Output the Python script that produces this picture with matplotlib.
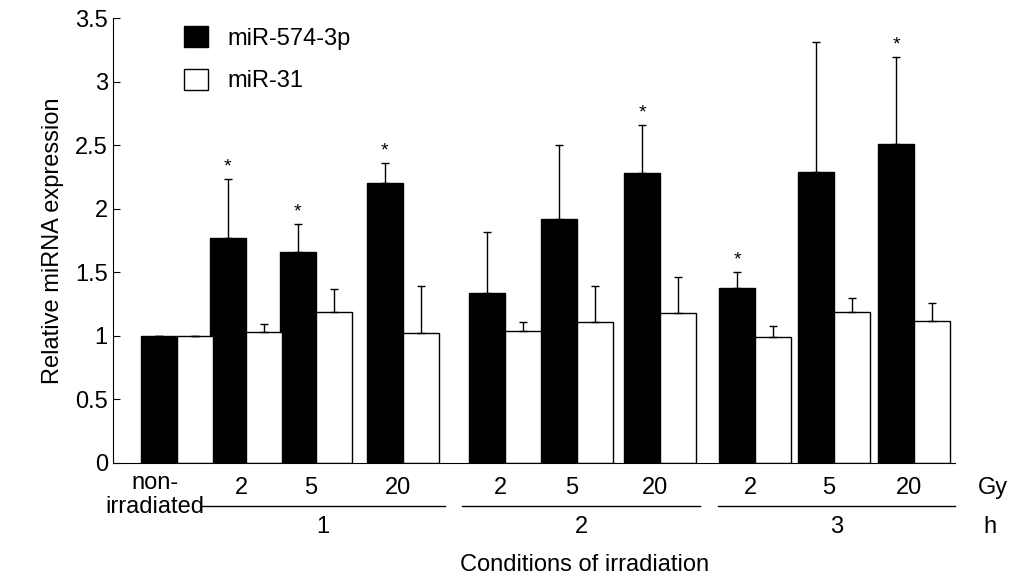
import matplotlib
matplotlib.use("Agg")
import matplotlib.pyplot as plt

doses = ["2", "5", "20", "2", "5", "20", "2", "5", "20"]
hours = ["1", "2", "3"]
mir574 = [1, 1.77, 1.66, 2.20, 1.34, 1.92, 2.28, 1.38, 2.29, 2.51]
mir574_err = [0, 0.46, 0.22, 0.16, 0.48, 0.58, 0.38, 0.12, 1.02, 0.68]
mir31 = [1, 1.03, 1.19, 1.02, 1.04, 1.11, 1.18, 0.99, 1.19, 1.12]
mir31_err = [0, 0.06, 0.18, 0.37, 0.07, 0.28, 0.28, 0.09, 0.11, 0.14]
signif = [False, True, True, True, False, False, True, True, False, True]

plt.rcParams["font.family"] = "Liberation Sans"
FS = 17
fig = plt.figure(figsize=(10.24, 5.83), dpi=100)
ax = fig.add_axes([0.110, 0.206, 0.823, 0.763])
centers = [177, 246, 316, 403, 505, 577, 660, 755, 834, 914]
w = 36
xb = [c - w/2 for c in centers]
xw = [c + w/2 for c in centers]
ax.bar(xb, mir574, w, color="black", edgecolor="black", lw=1, label="miR-574-3p")
ax.bar(xw, mir31, w, color="white", edgecolor="black", lw=1, label="miR-31")
ax.errorbar(xb, mir574, yerr=[[0]*10, mir574_err], fmt="none", ecolor="black", elinewidth=1, capsize=3)
ax.errorbar(xw, mir31, yerr=[[0]*10, mir31_err], fmt="none", ecolor="black", elinewidth=1, capsize=3)
for x, v, e, s in zip(xb, mir574, mir574_err, signif):
    if s:
        ax.text(x, v + e + 0.03, "*", ha="center", va="bottom", fontsize=14)
ax.set_xlim(113, 955)
ax.set_ylim(0, 3.5)
ax.set_yticks([0, 0.5, 1, 1.5, 2, 2.5, 3, 3.5])
ax.set_yticklabels(["0", "0.5", "1", "1.5", "2", "2.5", "3", "3.5"], fontsize=FS)
ax.set_xticks([])
ax.spines["top"].set_visible(False)
ax.spines["right"].set_visible(False)
ax.tick_params(axis="y", direction="in", length=5)
ax.set_ylabel("Relative miRNA expression", fontsize=FS, labelpad=8)
ax.legend(loc="upper left", bbox_to_anchor=(0.06, 1.03), frameon=False, fontsize=FS,
          handlelength=1.0, handleheight=1.0, labelspacing=0.8)

def fx(px): return px / 1024
def fy(py): return 1 - py / 583
fig.text(fx(155), fy(495), "non-\nirradiated", ha="center", va="center", fontsize=FS, linespacing=1.1)
for c, d in zip(centers[1:], doses):
    fig.text(fx(c - 5), fy(488), d, ha="center", va="center", fontsize=FS)
fig.text(fx(993), fy(488), "Gy", ha="center", va="center", fontsize=FS)
for (a, b), h in zip([(200, 445), (462, 700), (718, 955)], hours):
    fig.add_artist(plt.Line2D([fx(a), fx(b)], [fy(506), fy(506)], color="black", lw=1))
    fig.text(fx((a + b) / 2), fy(527), h, ha="center", va="center", fontsize=FS)
fig.text(fx(990), fy(527), "h", ha="center", va="center", fontsize=FS)
fig.text(fx(585), fy(565), "Conditions of irradiation", ha="center", va="center", fontsize=FS)
fig.savefig("out.png", dpi=100)
